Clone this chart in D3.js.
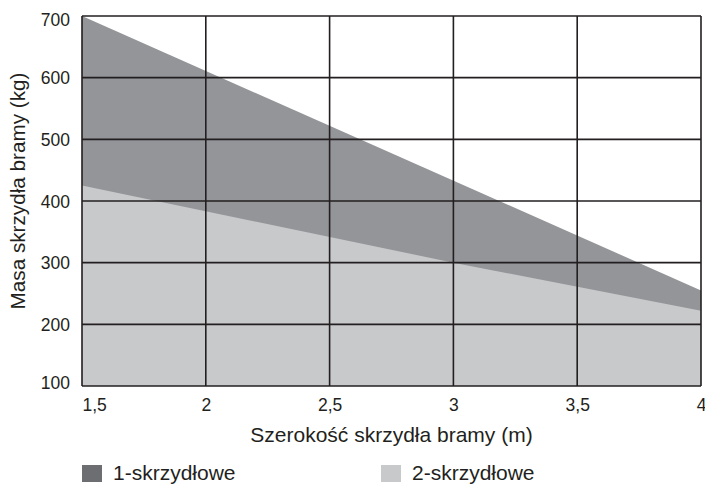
<!DOCTYPE html>
<html>
<head>
<meta charset="utf-8">
<script src="https://cdn.jsdelivr.net/npm/d3@7"></script>
<style>
  body { margin: 0; background: #fff; }
  text { font-family: "Liberation Sans", Arial, sans-serif; fill: #231f20; }
</style>
</head>
<body>
<div id="container"></div>
<script>
// Chart dimensions
const width = 705;
const height = 486;
const margin = { top: 16, right: 3, bottom: 100, left: 82 };

// Data
const widths1 = [1.5, 4];          // 1-skrzydłowe, szerokość (m)
const mass1 = [700, 255];          // masa (kg)
const widths2 = [1.5, 3, 4];       // 2-skrzydłowe
const mass2 = [425, 300, 222];

const xTicks = [1.5, 2, 2.5, 3, 3.5, 4];
const yTicks = [100, 200, 300, 400, 500, 600, 700];
const legendLabels = ["1-skrzydłowe", "2-skrzydłowe"];

const x = d3.scaleLinear()
    .domain([1.5, 4])
    .range([margin.left, width - margin.right - 1]);

const y = d3.scaleLinear()
    .domain([100, 700])
    .range([height - margin.bottom, margin.top]);

const svg = d3.select("#container").append("svg")
    .attr("width", width)
    .attr("height", height);

const series1 = widths1.map((w, i) => ({ w, m: mass1[i] }));
const series2 = widths2.map((w, i) => ({ w, m: mass2[i] }));

const area = d3.area()
    .x(d => x(d.w))
    .y0(y(100))
    .y1(d => y(d.m));

svg.append("path")
    .datum(series1)
    .attr("d", area)
    .attr("fill", "#939598");

svg.append("path")
    .datum(series2)
    .attr("d", area)
    .attr("fill", "#c8c9cb");

// Grid
const grid = svg.append("g")
    .attr("stroke", "#231f20")
    .attr("stroke-width", 1.6);

grid.selectAll("line.h")
    .data(yTicks)
    .join("line")
    .attr("class", "h")
    .attr("x1", x(1.5))
    .attr("x2", x(4))
    .attr("y1", d => y(d))
    .attr("y2", d => y(d));

grid.selectAll("line.v")
    .data(xTicks)
    .join("line")
    .attr("class", "v")
    .attr("x1", d => x(d))
    .attr("x2", d => x(d))
    .attr("y1", y(700))
    .attr("y2", y(100));

// Axes labels
const fmt = d => String(d).replace(".", ",");

const xAxis = svg.append("g")
    .attr("transform", `translate(0,${y(100)})`)
    .call(d3.axisBottom(x).tickValues(xTicks).tickFormat(fmt).tickSize(0).tickPadding(0));
xAxis.select(".domain").remove();
xAxis.selectAll("text")
    .attr("y", 25)
    .attr("dy", 0)
    .attr("font-size", 17.5)
    .attr("font-family", "Liberation Sans, Arial, sans-serif")
    .attr("fill", "#231f20")
    .filter(d => d === 1.5)
    .attr("text-anchor", "start");

const yAxis = svg.append("g")
    .attr("transform", `translate(${x(1.5)},0)`)
    .call(d3.axisLeft(y).tickValues(yTicks).tickSize(0).tickPadding(12));
yAxis.select(".domain").remove();
yAxis.selectAll("text")
    .attr("font-size", 17.5)
    .attr("font-family", "Liberation Sans, Arial, sans-serif")
    .attr("fill", "#231f20")
    .attr("dy", d => d === 700 ? "0.55em" : d === 100 ? "0.15em" : "0.35em");

svg.append("text")
    .attr("x", (x(1.5) + x(4)) / 2)
    .attr("y", 442)
    .attr("text-anchor", "middle")
    .attr("font-size", 21)
    .text("Szerokość skrzydła bramy (m)");

svg.append("text")
    .attr("transform", "rotate(-90)")
    .attr("x", -191)
    .attr("y", 25)
    .attr("text-anchor", "middle")
    .attr("font-size", 20.7)
    .text("Masa skrzydła bramy (kg)");

// Legend
const legend = svg.append("g")
    .selectAll("g")
    .data(legendLabels)
    .join("g")
    .attr("transform", (d, i) => `translate(${i === 0 ? 82 : 381},465)`);

legend.append("rect")
    .attr("width", 20)
    .attr("height", 17)
    .attr("fill", (d, i) => i === 0 ? "#6d6e71" : "#c8c9cb");

legend.append("text")
    .attr("x", 31)
    .attr("y", 15)
    .attr("font-size", 21)
    .text(d => d);
</script>
</body>
</html>
